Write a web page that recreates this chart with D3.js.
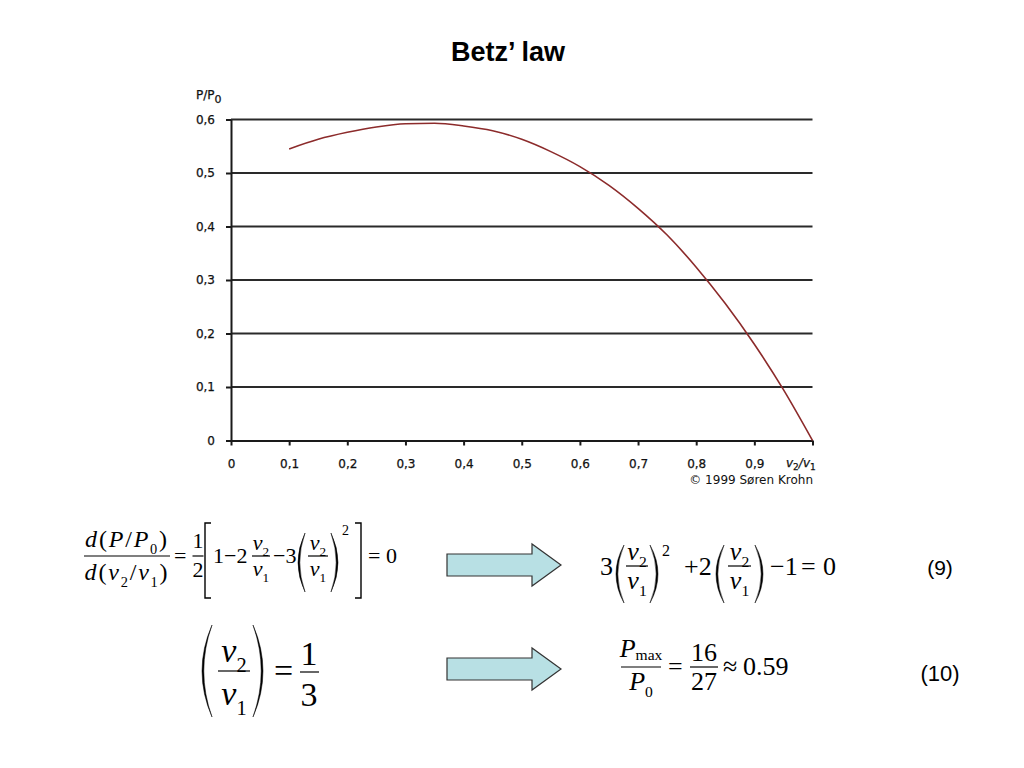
<!DOCTYPE html>
<html><head><meta charset="utf-8">
<script src="https://cdn.jsdelivr.net/npm/d3@7"></script>
<style>
html,body{margin:0;padding:0;background:#fff;}
svg{display:block;}
</style>
</head><body>
<script>
// ---- data ----
const ratioValues = [0.10,0.15,0.20,0.25,0.30,0.35,0.40,0.45,0.50,0.55,0.60,0.65,0.70,0.75,0.80,0.85,0.90,0.95,1.00];
const powerValues = [0.545,0.563,0.576,0.586,0.592,0.593,0.588,0.579,0.563,0.540,0.512,0.477,0.434,0.384,0.324,0.256,0.180,0.095,0.000];
const xTicks = [0,0.1,0.2,0.3,0.4,0.5,0.6,0.7,0.8,0.9,1.0];
const yTicks = [0,0.1,0.2,0.3,0.4,0.5,0.6];
const titleText = "Betz’ law";
const creditText = "© 1999 Søren Krohn";

const W = 1024, H = 768;
const svg = d3.select("body").append("svg").attr("width", W).attr("height", H);

const x = d3.scaleLinear().domain([0,1]).range([231,812.5]);
const y = d3.scaleLinear().domain([0,0.6]).range([440.5,119.5]);

const TICKFONT = "DejaVu Sans, Verdana, sans-serif";
const SERIF = "Liberation Serif, Times New Roman, serif";
const ARIAL = "Liberation Sans, Arial, sans-serif";

// title
svg.append("text").attr("x",508).attr("y",61).attr("text-anchor","middle")
  .attr("font-family",ARIAL).attr("font-weight","bold")
  .attr("font-size",27).text(titleText);

// gridlines
svg.append("g").selectAll("line").data(yTicks.filter(d=>d>0)).join("line")
  .attr("x1",x(0)).attr("x2",x(1)).attr("y1",d=>y(d)).attr("y2",d=>y(d))
  .attr("stroke","#2a2a2a").attr("stroke-width",2);

const fmt = d => d===0 ? "0" : d3.format(".1f")(d).replace(".",",");

// x axis
const gx = svg.append("g").attr("transform",`translate(0,${y(0)})`)
  .call(d3.axisBottom(x).tickValues(xTicks).tickSize(5).tickSizeOuter(0).tickPadding(14)
    .tickFormat(d => d===1 ? "" : fmt(d)));
gx.select(".domain").attr("stroke","#1a1a1a").attr("stroke-width",2);
gx.selectAll(".tick line").attr("stroke","#1a1a1a").attr("stroke-width",2);
gx.selectAll(".tick text").attr("font-family",TICKFONT).attr("font-size",12).attr("fill","#111")
  .attr("stroke","#111").attr("stroke-width",0.25);

// y axis
const gy = svg.append("g").attr("transform",`translate(${x(0)},0)`)
  .call(d3.axisLeft(y).tickValues(yTicks).tickSize(5).tickSizeOuter(0).tickPadding(11).tickFormat(fmt));
gy.select(".domain").attr("stroke","#1a1a1a").attr("stroke-width",2);
gy.selectAll(".tick line").attr("stroke","#1a1a1a").attr("stroke-width",2);
gy.selectAll(".tick text").attr("font-family",TICKFONT).attr("font-size",12).attr("fill","#111")
  .attr("stroke","#111").attr("stroke-width",0.25);

// axis titles
const yl = svg.append("text").attr("x",196).attr("y",99).attr("font-family",TICKFONT).attr("font-size",12)
  .attr("fill","#111").attr("stroke","#111").attr("stroke-width",0.25);
yl.append("tspan").text("P/P");
yl.append("tspan").attr("dy",4).attr("font-size",11).text("0");
const xl = svg.append("text").attr("x",786).attr("y",467).attr("font-family",TICKFONT).attr("font-size",12)
  .attr("fill","#111").attr("stroke","#111").attr("stroke-width",0.25).attr("font-style","italic");
xl.append("tspan").text("v");
xl.append("tspan").attr("dy",3).attr("font-size",9).attr("font-style","normal").text("2");
xl.append("tspan").attr("dy",-3).text("/v");
xl.append("tspan").attr("dy",3).attr("font-size",9).attr("font-style","normal").text("1");
svg.append("text").attr("x",813).attr("y",484).attr("text-anchor","end")
  .attr("font-family",TICKFONT).attr("font-size",12).attr("fill","#111").text(creditText);

// curve
const pts = ratioValues.map((v,i)=>[v,powerValues[i]]);
svg.append("path").datum(pts)
  .attr("d", d3.line().x(d=>x(d[0])).y(d=>y(d[1])).curve(d3.curveMonotoneX))
  .attr("fill","none").attr("stroke","#8c2b2b").attr("stroke-width",1.6);

// ---- math helpers ----
function mtext(px, py, parts, size, anchor, ls, subShift) {
  const t = svg.append("text").attr("x",px).attr("y",py).attr("font-family",SERIF)
    .attr("font-size",size).attr("text-anchor",anchor||"start").attr("fill","#000");
  if (ls) t.attr("letter-spacing", ls);
  let shift = 0;
  parts.forEach(([s,st]) => {
    let target = 0, fs = size;
    if (st==="s") { target = size*(subShift==null ? 0.28 : subShift); fs = size*0.6; }
    if (st==="p") { target = -size*0.45; fs = size*0.6; }
    const ts = t.append("tspan").text(s).attr("font-size",fs)
      .attr("font-style", st==="i" ? "italic" : "normal");
    if (target-shift !== 0) ts.attr("dy", target-shift);
    shift = target;
  });
  return t;
}
function frac(cx, by, x1, x2, num, den, size, gn, gd, ls, numSub) {
  mtext(cx, by - gn, num, size, "middle", ls, numSub);
  svg.append("line").attr("x1",x1).attr("x2",x2).attr("y1",by).attr("y2",by)
    .attr("stroke","#000").attr("stroke-width",1.2);
  mtext(cx, by + gd, den, size, "middle", ls);
}
function paren(x1, x2, top, bot, left) {
  const mid = (top+bot)/2;
  const xa = left ? x2 : x1, xb = left ? x1 : x2;
  const th = left ? 1.8 : -1.8;
  const cOut = 2*xb - xa, cIn = 2*(xb+th) - xa;
  svg.append("path").attr("d",`M${xa},${top} Q${cOut},${mid} ${xa},${bot} Q${cIn},${mid} ${xa},${top} Z`)
    .attr("fill","#000").attr("stroke","#000").attr("stroke-width",0.5);
}
function bracket(x1, x2, top, bot, left) {
  const d = left ? `M${x2},${top} H${x1} V${bot} H${x2}` : `M${x1},${top} H${x2} V${bot} H${x1}`;
  svg.append("path").attr("d",d).attr("fill","none").attr("stroke","#000").attr("stroke-width",1.4);
}
function arrow(x0, cy) {
  const d = `M${x0},${cy-11} H${x0+85} V${cy-21} L${x0+114},${cy} L${x0+85},${cy+21} V${cy+11} H${x0} Z`;
  svg.append("path").attr("d",d).attr("fill","#b8e0e4").attr("stroke","#333").attr("stroke-width",1.2);
}
const V2 = [["v","i"],["2","s"]], V1 = [["v","i"],["1","s"]];

// ---- equation (first row) ----
const S = 22;
frac(127, 556, 84, 170, [["d","i"],["(","r"],["P","i"],["/","r"],["P","i"],["0","s"],[")","r"]],
     [["d","i"],["(","r"],["v","i"],["2","s"],["/","r"],["v","i"],["1","s"],[")","r"]], 24, 9, 24, 1.8);
mtext(174, 563, [["=","r"]], S);
frac(198, 556, 192.5, 203.5, [["1","r"]], [["2","r"]], S, 8, 21);
bracket(205, 211, 523, 598, true);
mtext(213, 563, [["1\u22122","r"]], S);
frac(261, 556, 252, 270, V2, V1, S, 6, 20);
mtext(273, 563, [["\u22123","r"]], S);
paren(298, 305, 533, 592, true);
frac(318, 556, 308, 328, V2, V1, S, 6, 20);
paren(331, 338, 533, 592, false);
mtext(342, 535, [["2","r"]], 14);
bracket(355, 361, 523, 598, false);
mtext(368, 563, [["= 0","r"]], S);

arrow(447, 565);

const B = 566, S2 = 26;
mtext(600, B+9, [["3","r"]], S2);
paren(616, 624, 545, 603, true);
frac(637, B, 626, 648, V2, V1, S2, 6, 23);
paren(650, 658, 545, 603, false);
mtext(662, 556, [["2","r"]], 16);
mtext(684, B+9, [["+2","r"]], S2);
paren(716, 724, 545, 603, true);
frac(739.5, B, 728, 751, V2, V1, S2, 6, 23);
paren(755, 763, 545, 603, false);
mtext(770, B+9, [["\u22121","r"]], S2);
mtext(801, B+9, [["=","r"]], S2);
mtext(823, B+9, [["0","r"]], S2);
svg.append("text").attr("x",940).attr("y",575).attr("text-anchor","middle")
  .attr("font-family",ARIAL).attr("font-size",21).text("(9)");

// ---- second row ----
paren(202, 212, 625, 717, true);
frac(234, 671, 218, 250, V2, V1, 34, 9, 34);
paren(253, 263, 625, 717, false);
mtext(274, 682, [["=","r"]], 34);
frac(309, 672, 300, 319, [["1","r"]], [["3","r"]], 34, 7, 34);

arrow(447, 669);

frac(641, 667, 621, 661, [["P","i"],["max","s"]], [["P","i"],["0","s"]], S2, 10, 23, 0, 0.12);
mtext(668, 675, [["=","r"]], S2);
frac(704, 667, 690, 718, [["16","r"]], [["27","r"]], S2, 6, 23);
mtext(723, 675, [["\u2248","r"]], S2);
mtext(743, 675, [["0.59","r"]], S2);
svg.append("text").attr("x",940).attr("y",681).attr("text-anchor","middle")
  .attr("font-family",ARIAL).attr("font-size",22).text("(10)");
</script>
</body></html>
